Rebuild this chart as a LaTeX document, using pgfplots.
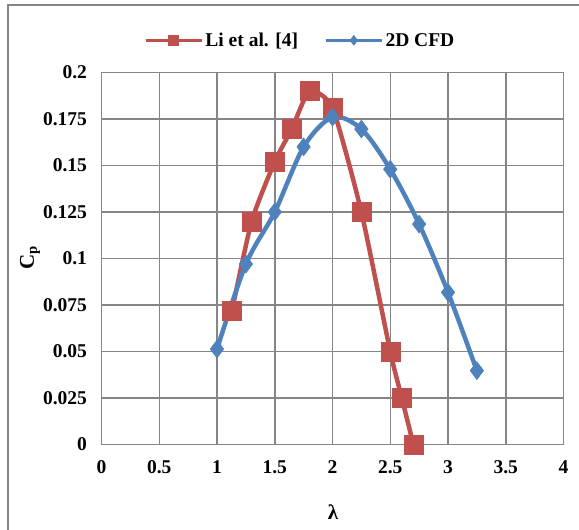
\documentclass[border=0pt]{standalone}
\usepackage{pgfplots}
\pgfplotsset{compat=1.18}
\usepackage{fontspec}
\setmainfont{Liberation Serif}
\definecolor{redS}{RGB}{192,80,77}
\definecolor{blueS}{RGB}{79,129,189}
\definecolor{gridC}{RGB}{134,134,134}
\begin{document}
\begin{tikzpicture}[x=1pt,y=1pt]
\useasboundingbox (0,0) rectangle (579,530);
\draw[gridC, line width=2pt] (8,0) -- (8,525) -- (579,525);
\begin{axis}[
  at={(101.5pt,85.5pt)}, anchor=south west,
  scale only axis, width=462pt, height=372pt,
  xmin=0, xmax=4, ymin=0, ymax=0.2,
  xtick={0,0.5,...,4}, ytick={0,0.025,...,0.2},
  xticklabels={0,0.5,1,1.5,2,2.5,3,3.5,4},
  yticklabels={0,0.025,0.05,0.075,0.1,0.125,0.15,0.175,0.2},
  grid=major, major grid style={gridC, line width=1.5pt},
  axis line style={gridC, line width=1.5pt},
  major tick length=0pt,
  tick label style={font=\fontsize{19.5}{22}\selectfont\bfseries},
  /pgf/number format/assume math mode=true,
  xticklabel style={yshift=-13pt},
  yticklabel style={xshift=-11pt},
  legend style={at={(0.43,1.055)}, anchor=south, draw=none, legend columns=2,
    font=\fontsize{19.5}{22}\selectfont\bfseries,
    /tikz/every even column/.append style={column sep=24pt},
    inner xsep=0pt},
  legend image code/.code={\draw[#1, line width=3.5pt, mark size=5pt, mark repeat=2, mark phase=2] plot coordinates {(0pt,0pt) (28pt,0pt) (56pt,0pt)};},
  clip=false,
]
\addplot[redS, line width=4.5pt, smooth, tension=0.35, mark=square*, mark size=9.5pt, mark options={solid, line width=0.5pt, fill=redS}]
coordinates {(1.13,0.072)(1.3,0.12)(1.5,0.152)(1.65,0.17)(1.8,0.19)(2.0,0.181)(2.25,0.125)(2.5,0.05)(2.6,0.025)(2.7,0)};
\addlegendentry{Li et al. [4]}
\addplot[blueS, line width=4.5pt, smooth, tension=0.5, mark=diamond*, mark size=9pt, mark options={solid, line width=0.5pt, fill=blueS}]
coordinates {(1,0.0513)(1.25,0.097)(1.5,0.125)(1.75,0.16)(2.0,0.176)(2.25,0.1696)(2.5,0.148)(2.75,0.1185)(3.0,0.0818)(3.25,0.0397)};
\addlegendentry{2D CFD}
\end{axis}
\node[rotate=90, font=\fontsize{21}{22}\selectfont\bfseries] at (30,272) {C\textsubscript{p}};
\node[font=\fontsize{21}{22}\selectfont\bfseries] at (333,18) {λ};
\end{tikzpicture}
\end{document}
